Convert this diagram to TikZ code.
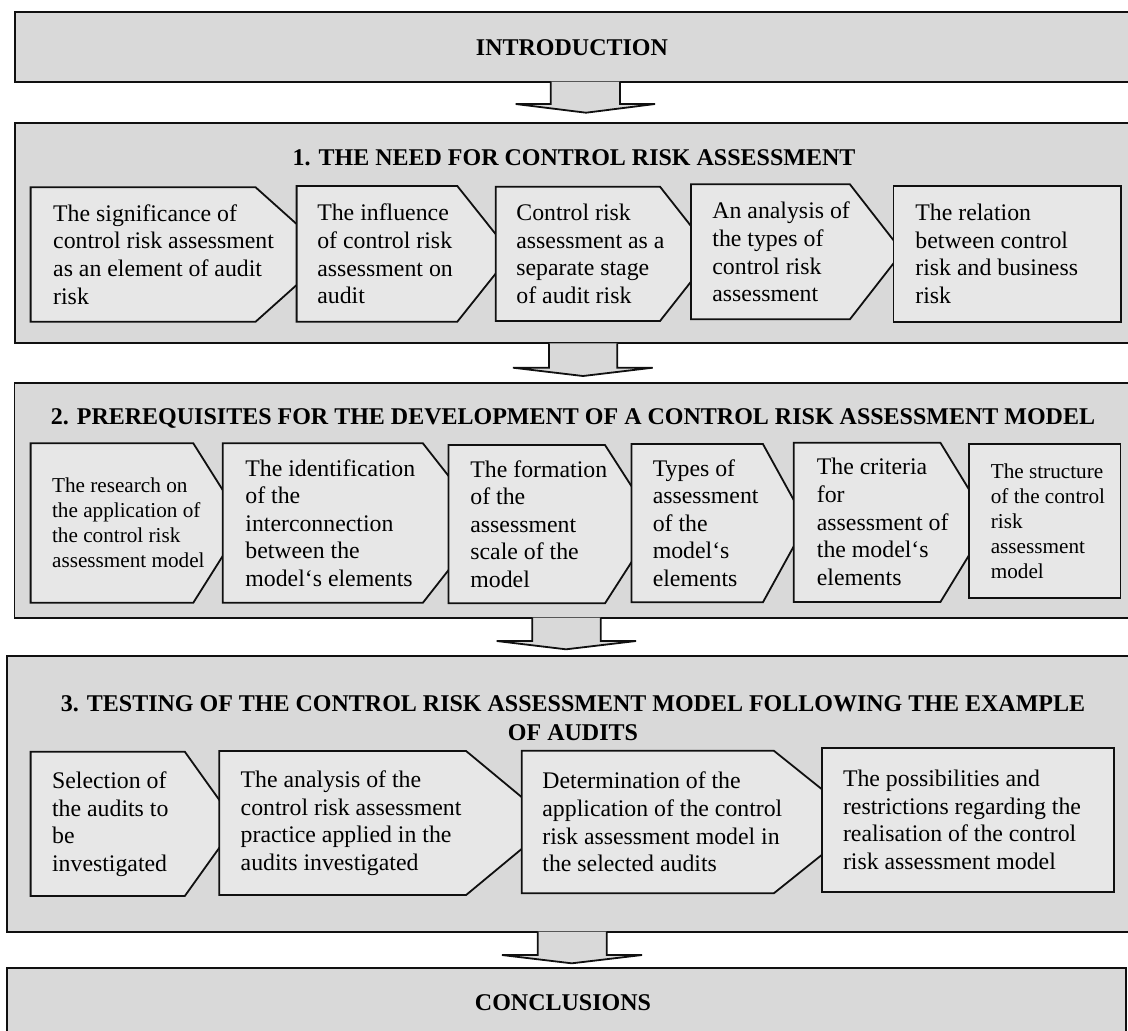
\documentclass[tikz,border=0pt]{standalone}
\usepackage{fontspec}
\setmainfont{Liberation Serif}
\usepackage{tikz}
\usetikzlibrary{positioning}
\definecolor{crsec}{HTML}{D9D9D9}
\definecolor{crbox}{HTML}{E7E7E7}
\definecolor{crink}{HTML}{101010}

\tikzset{
  secbox/.style={draw=crink,fill=crsec,line width=0.9pt},
  subbox/.style={draw=crink,fill=crbox,line width=0.9pt,line join=miter},
  downarrow/.style={draw=crink,fill=crsec,line width=0.9pt},
  headtext/.style={font=\fontsize{12}{14.2}\selectfont\bfseries,align=center,inner sep=0pt},
  boxtext/.style={font=\fontsize{11.9}{13.8}\selectfont,align=left,anchor=west,inner sep=0pt},
  smalltext/.style={boxtext,font=\fontsize{10.6}{12.5}\selectfont}
}

\begin{document}
\begin{tikzpicture}[x=0.5pt,y=-0.5pt]
  \clip (0,0) rectangle (1128,1030);
  % sections
  \draw[secbox] (15.3,12.3) rectangle (1140,81.7);
  \draw[secbox] (15.3,122.7) rectangle (1140,343.3);
  \draw[secbox] (14.5,383.3) rectangle (1140,617.7);
  \draw[secbox] (6.9,655.7) rectangle (1140,931.7);
  \draw[secbox] (6.9,967.7) rectangle (1126,1045);
  % arrows between the sections
  \foreach \t/\sl/\sr/\n/\hl/\hr/\px/\py in {81.7/550.7/620/104/515.7/655/586/112.7,
      343.3/549/617.3/367.7/513/652.7/583/376,
      617.7/532.3/600.7/641/496.7/636/566/649.3,
      931.7/537.7/606.7/955/502/642/571.7/963.3}
    \draw[downarrow] (\sl,\t) -- (\sl,\n) -- (\hl,\n) -- (\px,\py) -- (\hr,\n) -- (\sr,\n) -- (\sr,\t);
  % headings
  \node[headtext] (intro) at (572,48) {INTRODUCTION};
  \node[headtext] (need) at (574,158) {1. THE NEED FOR CONTROL RISK ASSESSMENT};
  \node[headtext] (prereq) at (573,418) {2. PREREQUISITES FOR THE DEVELOPMENT OF A CONTROL RISK ASSESSMENT MODEL};
  \node[headtext] (testing) at (573,718) {3. TESTING OF THE CONTROL RISK ASSESSMENT MODEL FOLLOWING THE EXAMPLE\\OF AUDITS};
  \node[headtext] (concl) at (563,1003) {CONCLUSIONS};
  % row 1
  \foreach \l/\t/\r/\b/\p in {30.6/187.3/255.6/321.7/330.7, 296.6/186/457.3/321.7/511.4,
      495.7/186.7/660/321/712.9, 691/184.3/849.9/319.3/902.5}
    \draw[subbox] (\l,\t) -- (\r,\t) -- (\p,{(\t+\b)/2}) -- (\r,\b) -- (\l,\b) -- cycle;
  \draw[subbox] (893.5,186) rectangle (1120.9,321.7);
  \node[boxtext] (signif) at (52.8,254.5) {The significance of\\control risk assessment\\as an element of audit\\risk};
  \node[boxtext] (influ) at (316.9,254) {The influence\\of control risk\\assessment on\\audit};
  \node[boxtext] (stage) at (516,254) {Control risk\\assessment as a\\separate stage\\of audit risk};
  \node[boxtext] (kinds) at (712,252) {An analysis of\\the types of\\control risk\\assessment};
  \node[boxtext] (relat) at (915,254) {The relation\\between control\\risk and business\\risk};
  % row 2
  \foreach \l/\t/\r/\b/\p in {30.6/443.3/193.3/602.7/243.5, 222.7/443.3/422.9/602.7/485.5,
      448.5/445/605/603.3/655.9, 631.5/444/762.9/602.3/806.5, 793.7/442.7/940.4/602/989.1}
    \draw[subbox] (\l,\t) -- (\r,\t) -- (\p,{(\t+\b)/2}) -- (\r,\b) -- (\l,\b) -- cycle;
  \draw[subbox] (968.7,444.3) rectangle (1120.5,598.3);
  \node[smalltext] (research) at (51.7,523) {The research on\\the application of\\the control risk\\assessment model};
  \node[boxtext] (ident) at (245,523) {The identification\\of the\\interconnection\\between the\\model‘s elements};
  \node[boxtext] (scale) at (470,524) {The formation\\of the\\assessment\\scale of the\\model};
  \node[boxtext] (atypes) at (652.4,523) {Types of\\assessment\\of the\\model‘s\\elements};
  \node[boxtext] (crit) at (816.5,522) {The criteria\\for\\assessment of\\the model‘s\\elements};
  \node[smalltext] (struct) at (990.4,521) {The structure\\of the control\\risk\\assessment\\model};
  % row 3
  \foreach \l/\t/\r/\b/\p in {30.6/751.7/184.8/896/236.4, 219.3/751/466.1/895/552.9,
      521.7/750.7/773.8/893.3/862.8}
    \draw[subbox] (\l,\t) -- (\r,\t) -- (\p,{(\t+\b)/2}) -- (\r,\b) -- (\l,\b) -- cycle;
  \draw[subbox] (821.6,748.3) rectangle (1113.6,892.3);
  \node[boxtext] (select) at (51.7,824) {Selection of\\the audits to\\be\\investigated};
  \node[boxtext] (practice) at (240.3,823) {The analysis of the\\control risk assessment\\practice applied in the\\audits investigated};
  \node[boxtext] (determ) at (542,822) {Determination of the\\application of the control\\risk assessment model in\\the selected audits};
  \node[boxtext] (possib) at (842.6,820) {The possibilities and\\restrictions regarding the\\realisation of the control\\risk assessment model};
\end{tikzpicture}
\end{document}
